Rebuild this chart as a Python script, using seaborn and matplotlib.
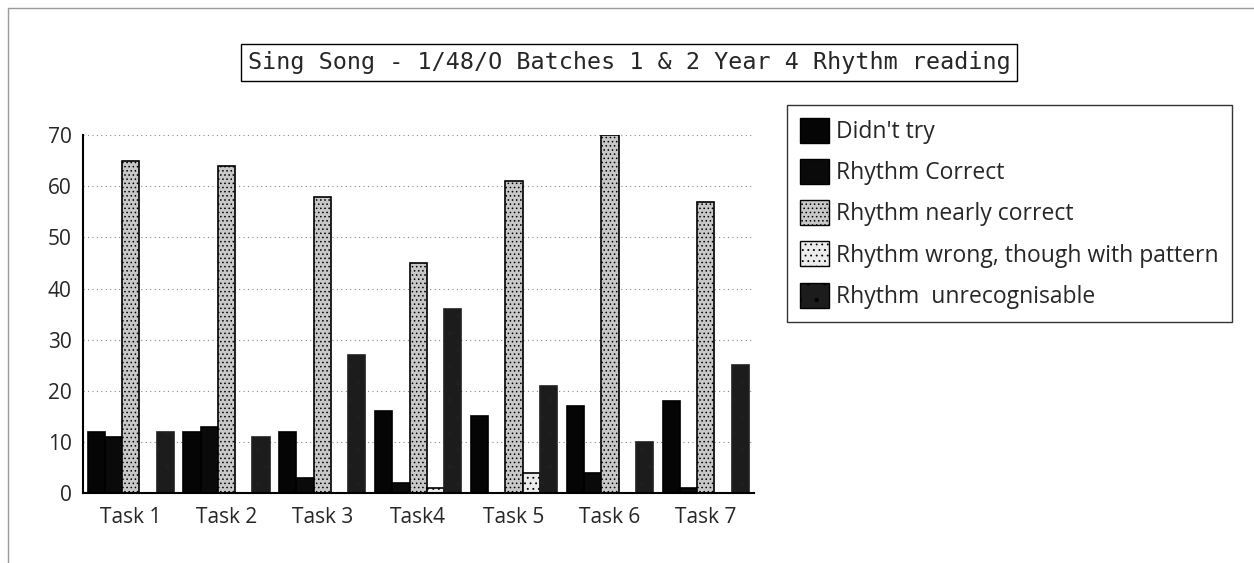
import numpy as np
import pandas as pd
import matplotlib
matplotlib.use("Agg")
import matplotlib.pyplot as plt
import seaborn as sns
from matplotlib.lines import Line2D
from matplotlib.patches import Patch

# ---------------------------------------------------------------------------
# Data
# ---------------------------------------------------------------------------
tasks = ["Task 1", "Task 2", "Task 3", "Task4", "Task 5", "Task 6", "Task 7"]
didnt_try = [12, 12, 12, 16, 15, 17, 18]
rhythm_correct = [11, 13, 3, 2, 0, 4, 1]
nearly_correct = [65, 64, 58, 45, 61, 70, 57]
wrong_pattern = [0, 0, 0, 1, 4, 0, 0]
unrecognisable = [12, 11, 27, 36, 21, 10, 25]

series_names = ["Didn't try", "Rhythm Correct", "Rhythm nearly correct",
                "Rhythm wrong, though with pattern", "Rhythm  unrecognisable"]
series_values = [didnt_try, rhythm_correct, nearly_correct,
                 wrong_pattern, unrecognisable]

rows = []
for name, vals in zip(series_names, series_values):
    for t, v in zip(tasks, vals):
        rows.append({"task": t, "series": name, "value": v})
df = pd.DataFrame(rows)

# ---------------------------------------------------------------------------
# Styles
# ---------------------------------------------------------------------------
face = ["#050505", "#0a0a0a", "#c8c8c8", "#ececec", "#1c1c1c"]
hatch = ["", "", "....", "...", "."]

sns.set_style("white")
plt.rcParams["font.family"] = ["Open Sans", "DejaVu Sans"]
plt.rcParams["hatch.linewidth"] = 0.6

fig = plt.figure(figsize=(12.54, 5.63), dpi=100)
ax = fig.add_axes([0.066, 0.124, 0.535, 0.636])

sns.barplot(data=df, x="task", y="value", hue="series",
            hue_order=series_names, palette=face, width=0.9,
            saturation=1, legend=False, ax=ax)

for i, cont in enumerate(ax.containers):
    for bar in cont:
        bar.set_edgecolor("black")
        bar.set_linewidth(1.2)
        bar.set_hatch(hatch[i])
        if i == 4:
            bar.set_edgecolor("#202020")

ax.set_ylim(0, 70)
ax.set_xlim(-0.5, len(tasks) - 0.5)
ax.set_yticks(np.arange(0, 71, 10))
ax.yaxis.grid(True, linestyle=(0, (1, 3)), color="#888888", linewidth=0.8)
ax.set_axisbelow(True)
ax.set_xlabel("")
ax.set_ylabel("")
for side in ["top", "right"]:
    ax.spines[side].set_visible(False)
for side in ["left", "bottom"]:
    ax.spines[side].set_linewidth(1.5)
    ax.spines[side].set_color("black")

# ticks between categories on x axis
ax.set_xticks(np.arange(len(tasks)))
ax.set_xticklabels(tasks)
ax.set_xticks(np.arange(len(tasks)) + 0.5, minor=True)
ax.tick_params(axis="x", which="major", length=0, labelsize=15, pad=10)
ax.tick_params(axis="x", which="minor", length=7, width=1.3, color="black")
ax.tick_params(axis="y", length=4, width=0.8, color="black", labelsize=15, pad=4)

# title box
fig.text(0.5016, 0.889, "Sing Song - 1/48/O Batches 1 & 2 Year 4 Rhythm reading",
         ha="center", va="center", fontsize=16.8, family="DejaVu Sans Mono",
         bbox=dict(boxstyle="square,pad=0.3", facecolor="white",
                   edgecolor="black", linewidth=1))

# legend
handles = [Patch(facecolor=face[i], edgecolor="black", hatch=hatch[i],
                 label=series_names[i]) for i in range(5)]
fig.legend(handles=handles, loc="upper left", bbox_to_anchor=(0.6276, 0.8135),
           frameon=True, fancybox=False, edgecolor="black", fontsize=16.5,
           handlelength=1.3, handleheight=1.3, handletextpad=0.3,
           labelspacing=0.66, borderpad=0.55, borderaxespad=0)

# faint outer frame (top and left edges visible in the scan)
fig.add_artist(Line2D([0.006, 1.0], [0.986, 0.986], transform=fig.transFigure,
                      color="#9a9a9a", linewidth=1))
fig.add_artist(Line2D([0.006, 0.006], [0.0, 0.986], transform=fig.transFigure,
                      color="#9a9a9a", linewidth=1))

fig.savefig("out.png", dpi=100)
